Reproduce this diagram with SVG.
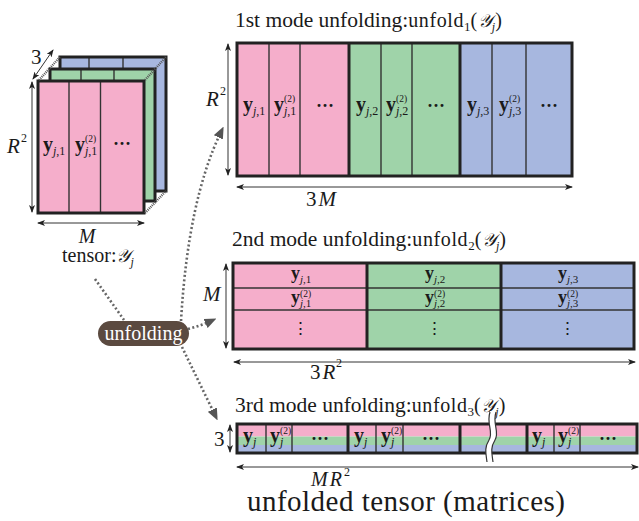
<svg xmlns="http://www.w3.org/2000/svg" width="639" height="521" viewBox="0 0 639 521">
  <defs>
    <style>
      text { font-family: "Liberation Serif", "Times New Roman", serif; fill: #1a1a1a; }
      .title { font-size: 21.5px; }
      .rm { font-size: 20px; letter-spacing: 0.6px; }
      .rsub { font-size: 13px; }
      .scr { font-family: "DejaVu Serif", "Liberation Serif", serif; font-style: italic; font-size: 18px; }
      .it { font-style: italic; }
      .vb { font-weight: bold; font-size: 20px; }
      .vb2 { font-weight: bold; font-size: 18px; }
      .sb { font-size: 12px; }
      .sb2 { font-size: 11px; }
      .sp { font-size: 9.5px; }
      .dots { font-weight: bold; font-size: 18px; }
      .vdots { font-family: "DejaVu Serif", serif; font-size: 17px; }
      .pink { fill: #f5aecb; }
      .green { fill: #9fd3a9; }
      .blue { fill: #a7b7df; }
      .outer { fill: none; stroke: #222; stroke-width: 3; }
      .thin { stroke: #333; stroke-width: 1.4; }
      .thick { stroke: #222; stroke-width: 3; }
      .dim { stroke: #333; stroke-width: 1; fill: none; marker-start: url(#tip); marker-end: url(#tip); }
      .hatch { stroke: #555; stroke-width: 2.4; stroke-dasharray: 1 1; fill: none; }
      .flow { stroke: #666; stroke-width: 2.6; stroke-dasharray: 2 2.4; fill: none; }
      .head { marker-end: url(#head); }
    </style>
    <marker id="tip" viewBox="0 0 8 6" refX="7" refY="3" markerWidth="8" markerHeight="6" markerUnits="userSpaceOnUse" orient="auto-start-reverse">
      <path d="M0,0 L8,3 L0,6 L2,3 z" fill="#222"/>
    </marker>
    <marker id="head" viewBox="0 0 12 10" refX="6" refY="5" markerWidth="12" markerHeight="10" markerUnits="userSpaceOnUse" orient="auto">
      <path d="M0,0 L12,5 L0,10 z" fill="#555"/>
    </marker>
  </defs>

  <!-- Tensor Y_j: three stacked slices -->
  <g id="tensor">
    <rect x="60" y="57" width="106" height="134" class="blue"/>
    <line x1="89" y1="57" x2="89" y2="81" class="thin"/>
    <line x1="123" y1="57" x2="123" y2="81" class="thin"/>
    <rect x="60" y="57" width="106" height="134" class="outer"/>
    <rect x="50" y="69" width="105" height="132" class="green"/>
    <line x1="81" y1="69" x2="81" y2="81" class="thin"/>
    <line x1="114" y1="69" x2="114" y2="81" class="thin"/>
    <rect x="50" y="69" width="105" height="132" class="outer"/>
    <rect x="38" y="81" width="106" height="132" class="pink"/>
    <line x1="69" y1="81" x2="69" y2="213" class="thin"/>
    <line x1="100.5" y1="81" x2="100.5" y2="213" class="thin"/>
    <rect x="38" y="81" width="106" height="132" class="outer"/>
    <line x1="39" y1="80" x2="60" y2="57" class="hatch"/>
    <line x1="145" y1="80" x2="166" y2="57" class="hatch"/>
    <line x1="145" y1="213" x2="166" y2="191" class="hatch"/>
    <text><tspan x="43" y="151" class="vb">y</tspan><tspan x="53" y="155" class="sb"><tspan class="it">j</tspan>,1</tspan></text>
    <text><tspan x="75" y="151" class="vb">y</tspan><tspan x="85" y="155" class="sb"><tspan class="it">j</tspan>,1</tspan><tspan x="85" y="142" class="sp">(2)</tspan></text>
    <text x="122" y="150" class="dots" text-anchor="middle">···</text>
    <line x1="33" y1="79" x2="53" y2="50" class="dim"/>
    <text x="31" y="64" font-size="21">3</text>
    <line x1="32" y1="82" x2="32" y2="212" class="dim"/>
    <text x="7" y="153" font-size="21" class="it">R</text>
    <text x="21" y="142" font-size="12">2</text>
    <line x1="38" y1="223" x2="144" y2="223" class="dim"/>
    <text x="87" y="243" font-size="20" class="it" text-anchor="middle">M</text>
    <text x="62" y="262" font-size="20">tensor:<tspan class="scr">𝒴</tspan><tspan class="sb it" dy="4">j</tspan></text>
  </g>

  <!-- unfolding operator -->
  <g id="unfolding">
    <rect x="98" y="321" width="91" height="25" rx="12.5" fill="#5b4a40"/>
    <text x="143.5" y="340" font-size="20" text-anchor="middle" style="fill:#ffffff">unfolding</text>
  </g>

  <!-- Mode-1 unfolding -->
  <g id="unfold1">
    <text x="235" y="27" class="title">1st mode unfolding:<tspan class="rm">unfold</tspan><tspan class="rsub" dy="4">1</tspan><tspan class="rm" dy="-4">(</tspan><tspan class="scr">𝒴</tspan><tspan class="sb it" dy="4">j</tspan><tspan class="rm" dy="-4">)</tspan></text>
    <rect x="237" y="43" width="112" height="133" class="pink"/>
    <rect x="349" y="43" width="111" height="133" class="green"/>
    <rect x="460" y="43" width="112" height="133" class="blue"/>
    <line x1="269" y1="43" x2="269" y2="176" class="thin"/>
    <line x1="300" y1="43" x2="300" y2="176" class="thin"/>
    <line x1="381" y1="43" x2="381" y2="176" class="thin"/>
    <line x1="412" y1="43" x2="412" y2="176" class="thin"/>
    <line x1="492" y1="43" x2="492" y2="176" class="thin"/>
    <line x1="526" y1="43" x2="526" y2="176" class="thin"/>
    <line x1="349" y1="43" x2="349" y2="176" class="thick"/>
    <line x1="460" y1="43" x2="460" y2="176" class="thick"/>
    <rect x="237" y="43" width="335" height="133" class="outer"/>
    <text><tspan x="243" y="111" class="vb">y</tspan><tspan x="253" y="115" class="sb"><tspan class="it">j</tspan>,1</tspan></text>
    <text><tspan x="274" y="111" class="vb">y</tspan><tspan x="284" y="115" class="sb"><tspan class="it">j</tspan>,1</tspan><tspan x="284" y="102" class="sp">(2)</tspan></text>
    <text x="325" y="112" class="dots" text-anchor="middle">···</text>
    <text><tspan x="356" y="111" class="vb">y</tspan><tspan x="366" y="115" class="sb"><tspan class="it">j</tspan>,2</tspan></text>
    <text><tspan x="386" y="111" class="vb">y</tspan><tspan x="396" y="115" class="sb"><tspan class="it">j</tspan>,2</tspan><tspan x="396" y="102" class="sp">(2)</tspan></text>
    <text x="436" y="112" class="dots" text-anchor="middle">···</text>
    <text><tspan x="467" y="111" class="vb">y</tspan><tspan x="477" y="115" class="sb"><tspan class="it">j</tspan>,3</tspan></text>
    <text><tspan x="499" y="111" class="vb">y</tspan><tspan x="509" y="115" class="sb"><tspan class="it">j</tspan>,3</tspan><tspan x="509" y="102" class="sp">(2)</tspan></text>
    <text x="549" y="112" class="dots" text-anchor="middle">···</text>
    <line x1="228" y1="44" x2="228" y2="175" class="dim"/>
    <text x="206" y="106" font-size="21" class="it">R</text>
    <text x="220" y="95" font-size="12">2</text>
    <line x1="237" y1="187" x2="572" y2="187" class="dim"/>
    <text x="306" y="206" font-size="21">3<tspan class="it" dx="2">M</tspan></text>
  </g>

  <!-- Mode-2 unfolding -->
  <g id="unfold2">
    <text x="232" y="246" class="title">2nd mode unfolding:<tspan class="rm">unfold</tspan><tspan class="rsub" dy="4">2</tspan><tspan class="rm" dy="-4">(</tspan><tspan class="scr">𝒴</tspan><tspan class="sb it" dy="4">j</tspan><tspan class="rm" dy="-4">)</tspan></text>
    <rect x="233" y="263" width="134" height="86" class="pink"/>
    <rect x="367" y="263" width="134" height="86" class="green"/>
    <rect x="501" y="263" width="133" height="86" class="blue"/>
    <line x1="233" y1="288" x2="634" y2="288" class="thin"/>
    <line x1="233" y1="310" x2="634" y2="310" class="thin"/>
    <line x1="367" y1="263" x2="367" y2="349" class="thick"/>
    <line x1="501" y1="263" x2="501" y2="349" class="thick"/>
    <rect x="233" y="263" width="401" height="86" class="outer"/>
    <text><tspan x="291" y="279" class="vb2">y</tspan><tspan x="300" y="283" class="sb2"><tspan class="it">j</tspan>,1</tspan></text>
    <text><tspan x="291" y="303" class="vb2">y</tspan><tspan x="300" y="306.5" class="sb2"><tspan class="it">j</tspan>,1</tspan><tspan x="300" y="297" class="sp">(2)</tspan></text>
    <text x="300" y="334" class="vdots" text-anchor="middle">⋮</text>
    <text><tspan x="425" y="279" class="vb2">y</tspan><tspan x="434" y="283" class="sb2"><tspan class="it">j</tspan>,2</tspan></text>
    <text><tspan x="425" y="303" class="vb2">y</tspan><tspan x="434" y="306.5" class="sb2"><tspan class="it">j</tspan>,2</tspan><tspan x="434" y="297" class="sp">(2)</tspan></text>
    <text x="434" y="334" class="vdots" text-anchor="middle">⋮</text>
    <text><tspan x="558" y="279" class="vb2">y</tspan><tspan x="567" y="283" class="sb2"><tspan class="it">j</tspan>,3</tspan></text>
    <text><tspan x="558" y="303" class="vb2">y</tspan><tspan x="567" y="306.5" class="sb2"><tspan class="it">j</tspan>,3</tspan><tspan x="567" y="297" class="sp">(2)</tspan></text>
    <text x="567" y="334" class="vdots" text-anchor="middle">⋮</text>
    <line x1="226" y1="264" x2="226" y2="348" class="dim"/>
    <text x="203" y="301" font-size="21" class="it">M</text>
    <line x1="234" y1="362" x2="635" y2="362" class="dim"/>
    <text x="310" y="379" font-size="21">3<tspan class="it" dx="2">R</tspan></text>
    <text x="336" y="367" font-size="12">2</text>
  </g>

  <!-- Mode-3 unfolding -->
  <g id="unfold3">
    <text x="235" y="412" class="title">3rd mode unfolding:<tspan class="rm">unfold</tspan><tspan class="rsub" dy="4">3</tspan><tspan class="rm" dy="-4">(</tspan><tspan class="scr">𝒴</tspan><tspan class="sb it" dy="4">j</tspan><tspan class="rm" dy="-4">)</tspan></text>
    <rect x="237" y="424" width="400" height="12.5" class="pink"/>
    <rect x="237" y="436.5" width="400" height="8.5" class="green"/>
    <rect x="237" y="445" width="400" height="8.5" class="blue"/>
    <line x1="266" y1="424" x2="266" y2="453" class="thin"/>
    <line x1="292" y1="424" x2="292" y2="453" class="thin"/>
    <line x1="376" y1="424" x2="376" y2="453" class="thin"/>
    <line x1="403" y1="424" x2="403" y2="453" class="thin"/>
    <line x1="554" y1="424" x2="554" y2="453" class="thin"/>
    <line x1="580" y1="424" x2="580" y2="453" class="thin"/>
    <line x1="348" y1="424" x2="348" y2="453" class="thick"/>
    <line x1="460" y1="424" x2="460" y2="453" class="thick"/>
    <line x1="527" y1="424" x2="527" y2="453" class="thick"/>
    <rect x="237" y="424" width="400" height="29" class="outer"/>
    <!-- break mark -->
    <path d="M493,412 C489,424 497,432 492,440 S489,454 490,462" fill="none" stroke="#ffffff" stroke-width="6"/>
    <path d="M490,412 C486,424 494,432 489,440 S486,454 487,462" fill="none" stroke="#333" stroke-width="1.2"/>
    <path d="M496,412 C492,424 500,432 495,440 S492,454 493,462" fill="none" stroke="#333" stroke-width="1.2"/>
    <text><tspan x="243" y="442" class="vb">y</tspan><tspan x="253" y="446" class="sb it">j</tspan></text>
    <text><tspan x="270" y="442" class="vb">y</tspan><tspan x="280" y="446" class="sb it">j</tspan><tspan x="280" y="434" class="sp">(2)</tspan></text>
    <text x="320" y="445" class="dots" text-anchor="middle">···</text>
    <text><tspan x="354" y="442" class="vb">y</tspan><tspan x="364" y="446" class="sb it">j</tspan></text>
    <text><tspan x="381" y="442" class="vb">y</tspan><tspan x="391" y="446" class="sb it">j</tspan><tspan x="391" y="434" class="sp">(2)</tspan></text>
    <text x="431" y="445" class="dots" text-anchor="middle">···</text>
    <text><tspan x="532" y="442" class="vb">y</tspan><tspan x="542" y="446" class="sb it">j</tspan></text>
    <text><tspan x="558" y="442" class="vb">y</tspan><tspan x="568" y="446" class="sb it">j</tspan><tspan x="568" y="434" class="sp">(2)</tspan></text>
    <text x="608" y="445" class="dots" text-anchor="middle">···</text>
    <line x1="230" y1="425" x2="230" y2="452" class="dim"/>
    <text x="214" y="446" font-size="21">3</text>
    <line x1="237" y1="467" x2="638" y2="467" class="dim"/>
    <text x="311" y="486" font-size="20" class="it">M<tspan dx="2">R</tspan></text>
    <text x="344" y="476" font-size="12">2</text>
    <text x="247" y="511" font-size="29" textLength="318">unfolded tensor (matrices)</text>
  </g>

  <!-- dotted flow connectors -->
  <g id="connectors">
    <path d="M95,279 L124,320" class="flow"/>
    <path d="M181,321 Q188,200 221,132" class="flow head"/>
    <path d="M188,329 Q200,326 211,321" class="flow head"/>
    <path d="M182,347 Q198,380 215,415" class="flow head"/>
  </g>
</svg>
